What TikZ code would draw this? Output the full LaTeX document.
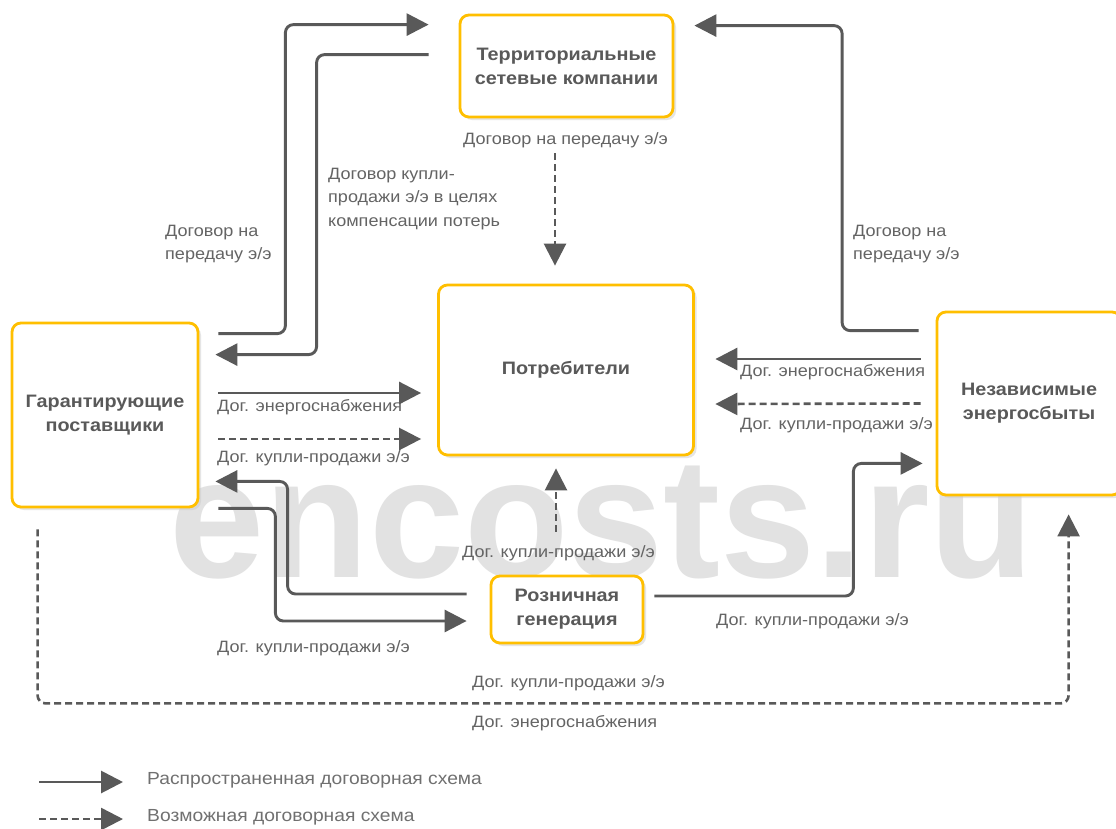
\documentclass[tikz,border=0pt]{standalone}
\usepackage{fontspec}
\setmainfont{Liberation Sans}[FakeStretch=1.1]
\newfontfamily\wmfont{Liberation Sans}
\usetikzlibrary{arrows.meta,positioning,shadows}
\definecolor{boxline}{RGB}{255,191,0}
\definecolor{arrgray}{RGB}{89,89,89}
\definecolor{txtgray}{RGB}{100,100,100}
\definecolor{leggray}{RGB}{112,112,112}
\definecolor{wmgray}{RGB}{226,226,226}

\begin{document}
\begin{tikzpicture}[x=1pt,y=-1pt,
            every node/.append style = {inner sep=0pt},
            party/.style = {draw=boxline, line width=2.8pt, rounded corners=9pt, fill=white,
                drop shadow={shadow xshift=3pt, shadow yshift=-3pt, fill=black!20},
                align=center, text=arrgray, font=\fontsize{18}{24}\selectfont\bfseries},
            lbl/.style = {text=txtgray, align=left, font=\fontsize{16.4}{23.5}\selectfont},
            sol/.style = {draw=arrgray, line width=2.9pt, rounded corners=8pt,
                -{Triangle[length=22pt,width=22pt]}},
            dsh/.style = {sol, line width=2.6pt, dash pattern=on 7pt off 4pt}]
        \fill[white] (0,0) rectangle (1116,828);
        \useasboundingbox (0,0) rectangle (1116,828);
        \node (nwm) at (602,577) [anchor=base, text=wmgray, font=\wmfont\fontsize{171}{171}\selectfont\bfseries] {encosts.ru};

        \node[party, minimum width=213pt, minimum height=102pt] (ntsk) at (566.5,66) {Территориальные\\сетевые компании};
        \node[party, minimum width=255pt, minimum height=170pt] (ncons) at (566,370) {Потребители};
        \node[party, minimum width=186pt, minimum height=184pt] (ngp) at (105,415) {Гарантирующие\\поставщики};
        \node[party, minimum width=184pt, minimum height=183pt] (nnes) at (1029,403.5) {Независимые\\энергосбыты};
        \node[party, minimum width=152pt, minimum height=67pt] (nrg) at (567,609.5) {Розничная\\генерация};

        \node[lbl, anchor=west] (lb1) at (165,244) {Договор на\\передачу э/э};
        \node[lbl, anchor=west] (lb2) at (328,199) {Договор купли-\\продажи э/э в целях\\компенсации потерь};
        \node[lbl, anchor=west] (lb3) at (463,140) {Договор на передачу э/э};
        \node[lbl, anchor=west] (lb4) at (853,244) {Договор на\\передачу э/э};
        \node[lbl, anchor=west] (lb5) at (217,407) {Дог. энергоснабжения};
        \node[lbl, anchor=west] (lb6) at (217,458) {Дог. купли-продажи э/э};
        \node[lbl, anchor=west] (lb7) at (740,372) {Дог. энергоснабжения};
        \node[lbl, anchor=west] (lb8) at (740,425) {Дог. купли-продажи э/э};
        \node[lbl, anchor=west] (lb9) at (462,553) {Дог. купли-продажи э/э};
        \node[lbl, anchor=west] (lb10) at (217,648) {Дог. купли-продажи э/э};
        \node[lbl, anchor=west] (lb11) at (716,621) {Дог. купли-продажи э/э};
        \node[lbl, anchor=west] (lb12) at (472,683) {Дог. купли-продажи э/э};
        \node[lbl, anchor=west] (lb13) at (472,723) {Дог. энергоснабжения};

        \draw[sol] ([xshift=19pt,yshift=-12pt]ngp.north east) -- ++(67,0) |- ([xshift=-30pt,yshift=-11pt]ntsk.north west);
        \draw[sol] ([xshift=-30pt,yshift=-41pt]ntsk.north west) -- ++(-112,0) |- ([xshift=16pt,yshift=-33pt]ngp.north east);
        \draw[dsh] ([xshift=-11.5pt,yshift=-35pt]ntsk.south) -- ([xshift=-11pt,yshift=18pt]ncons.north);
        \draw[sol] ([xshift=-17pt,yshift=-20pt]nnes.north west) -- ++(-76.5,0) |- ([xshift=20pt,yshift=-12pt]ntsk.north east);
        \draw[sol] ([xshift=19pt,yshift=22pt]ngp.east) -- ([xshift=-16pt,yshift=-23pt]ncons.west);
        \draw[dsh] ([xshift=19pt,yshift=-24pt]ngp.east) -- ([xshift=-16pt,yshift=-69pt]ncons.west);
        \draw[sol] ([xshift=-15pt,yshift=44.5pt]nnes.west) -- ([xshift=20.5pt,yshift=11pt]ncons.east);
        \draw[dsh] ([xshift=-15pt]nnes.west) -- ([xshift=20.5pt,yshift=-34pt]ncons.east);
        \draw[sol] ([xshift=-23pt,yshift=15.5pt]nrg.west) -- ++(-179,0) |- ([xshift=16pt,yshift=27pt]ngp.south east);
        \draw[sol] ([xshift=19pt]ngp.south east) -- ++(57,0) |- ([xshift=-23pt,yshift=-11.5pt]nrg.west);
        \draw[dsh] ([xshift=-11pt,yshift=43pt]nrg.north) -- ([xshift=-10pt,yshift=-12pt]ncons.south);
        \draw[sol] ([xshift=10pt,yshift=13.5pt]nrg.east) -- ++(199,0) |- ([xshift=-13pt,yshift=33pt]nnes.south west);
        \draw[dsh] ([xshift=27pt,yshift=-21pt]ngp.south west) -- ++(0,174) -| ([xshift=133pt,yshift=-18pt]nnes.south west);

        \node[lbl, text=leggray, anchor=west, font=\fontsize{17.5}{21}\selectfont] (nl1) at (147,780) {Распространенная договорная схема};
        \node[lbl, text=leggray, anchor=west, font=\fontsize{17.5}{21}\selectfont] (nl2) at (147,817) {Возможная договорная схема};
        \draw[sol] ([xshift=-108pt,yshift=-2pt]nl1.west) -- ([xshift=-24pt,yshift=-2pt]nl1.west);
        \draw[dsh] ([xshift=-108pt,yshift=-2pt]nl2.west) -- ([xshift=-24pt,yshift=-2pt]nl2.west);
\end{tikzpicture}
\end{document}
